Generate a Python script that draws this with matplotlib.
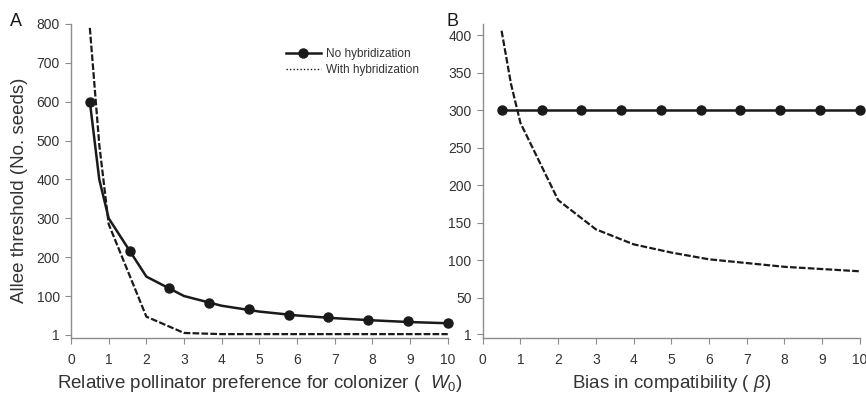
import matplotlib.pyplot as plt
from matplotlib.lines import Line2D

plt.rcParams["font.family"] = ["Liberation Sans", "DejaVu Sans"]
plt.rcParams["mathtext.fontset"] = "custom"
plt.rcParams["mathtext.it"] = "Liberation Sans:italic"
plt.rcParams["mathtext.rm"] = "Liberation Sans"

# panel A: relative pollinator preference W0
w0_line = [0.5, 0.75, 1, 2, 3, 4, 5, 6, 7, 8, 9, 10]
no_hyb_a = [600, 400, 300, 150, 100, 75, 60, 50, 43, 37.5, 33, 30]
w0_marks = [0.5, 1.56, 2.61, 3.67, 4.72, 5.78, 6.83, 7.89, 8.94, 10]
no_hyb_a_marks = [600, 217, 120, 83, 66, 52, 45, 39, 35, 30]
w0_hyb = [0.5, 0.75, 1, 2, 3, 4, 5, 6, 7, 8, 9, 10]
with_hyb_a = [790, 490, 285, 47, 5, 2, 2, 2, 2, 2, 2, 2]

# panel B: bias in compatibility beta
beta_marks = [0.5, 1.56, 2.61, 3.67, 4.72, 5.78, 6.83, 7.89, 8.94, 10]
no_hyb_b = [300, 300, 300, 300, 300, 300, 300, 300, 300, 300]
beta_hyb = [0.5, 0.75, 1, 2, 3, 4, 5, 6, 7, 8, 9, 10]
with_hyb_b = [406, 335, 283, 180, 141, 121, 110, 101, 96, 91, 88, 85]

a_yticks = [1, 100, 200, 300, 400, 500, 600, 700, 800]
b_yticks = [1, 50, 100, 150, 200, 250, 300, 350, 400]
xticks = list(range(11))

spine_col = "#8c8c8c"
text_col = "#333333"
ink = "#1a1a1a"

fig = plt.figure(figsize=(8.66, 3.97), dpi=100)
ax_a = fig.add_axes([0.082, 0.1486, 0.435, 0.791])
ax_b = fig.add_axes([0.5574, 0.1486, 0.4356, 0.791])


def style(ax, ylim, yticks):
    ax.set_xlim(0, 10)
    ax.set_ylim(*ylim)
    ax.set_xticks(xticks)
    ax.set_yticks(yticks)
    for s in ["top", "right"]:
        ax.spines[s].set_visible(False)
    for s in ["left", "bottom"]:
        ax.spines[s].set_color(spine_col)
        ax.spines[s].set_linewidth(1.0)
    ax.tick_params(axis="both", direction="out", length=4, width=0.8,
                   color=spine_col, labelcolor=text_col, labelsize=10)
    ax.tick_params(axis="x", pad=7)
    ax.tick_params(axis="y", pad=4)


dash = (0, (3, 1))

ax_a.plot(w0_hyb, with_hyb_a, color=ink, lw=1.6, ls=dash, zorder=2)
ax_a.plot(w0_line, no_hyb_a, color=ink, lw=1.8, zorder=3)
ax_a.plot(w0_marks, no_hyb_a_marks, ls="none", marker="o", ms=6.5,
          color=ink, zorder=4, clip_on=False)
style(ax_a, (-8, 800), a_yticks)
ax_a.set_ylabel("Allee threshold (No. seeds)", fontsize=13.5, color=text_col)
ax_a.yaxis.set_label_coords(-0.115, 0.47)
ax_a.set_xlabel(r"Relative pollinator preference for colonizer (  $W_0$)",
                fontsize=13.5, color=text_col, labelpad=4)

handles = [
    Line2D([], [], color=ink, lw=1.8, marker="o", ms=6.5),
    Line2D([], [], color=ink, lw=1.0, ls=(0, (1, 1.5))),
]
ax_a.legend(handles, ["No hybridization", "With hybridization"],
            loc="upper right", bbox_to_anchor=(0.945, 0.95), frameon=False,
            fontsize=8.5, handlelength=3.0, handletextpad=0.4,
            labelspacing=0.35, labelcolor=text_col, borderpad=0.2)

ax_b.plot(beta_hyb, with_hyb_b, color=ink, lw=1.6, ls=dash, zorder=2)
ax_b.plot(beta_marks, no_hyb_b, color=ink, lw=1.8, marker="o", ms=6.5,
          zorder=3, clip_on=False)
style(ax_b, (-4, 415), b_yticks)
ax_b.set_xlabel(r"Bias in compatibility ( $\beta$)", fontsize=13.5,
                color=text_col, labelpad=4)

fig.text(0.012, 0.935, "A", fontsize=13, color=ink)
fig.text(0.516, 0.935, "B", fontsize=13, color=ink)

fig.savefig("out.png", dpi=100)
